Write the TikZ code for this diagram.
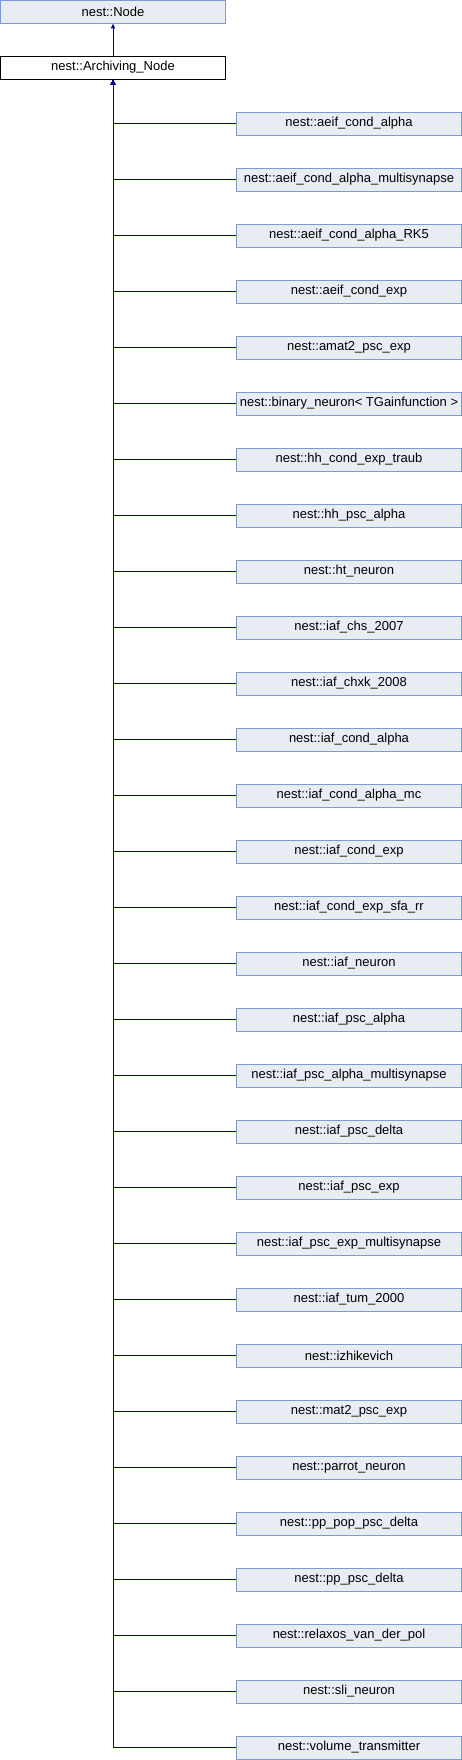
\documentclass[tikz,border=0pt]{standalone}
\usepackage{fontspec}
\setmainfont{Liberation Sans}
\usetikzlibrary{arrows.meta}
\definecolor{boxfill}{HTML}{E8ECF5}
\definecolor{boxdraw}{HTML}{7F9ACE}
\definecolor{edgecol}{HTML}{000090}
\begin{document}
\begin{tikzpicture}[x=1pt,y=-1pt,
  cls/.style={draw=boxdraw,fill=boxfill,line width=0.9pt,minimum width=225pt,minimum height=23pt,inner sep=0pt,font=\fontsize{13pt}{15pt}\selectfont,anchor=center},
  cur/.style={cls,draw=black,fill=white},
  inh/.style={draw=edgecol,line width=0.9pt,-{Latex[length=5pt,width=5pt]}}]
\useasboundingbox (0,0) rectangle (462,1760);
\node[cls] (node) at (113,11.5) {nest::Node};
\node[cur] (arch) at (113,67.5) {nest::Archiving\_Node};
\draw[inh] (arch.north) -- (node.south);
\foreach \i/\t in {0/nest::aeif\_cond\_alpha,
1/nest::aeif\_cond\_alpha\_multisynapse,
2/nest::aeif\_cond\_alpha\_RK5,
3/nest::aeif\_cond\_exp,
4/nest::amat2\_psc\_exp,
5/{nest::binary\_neuron< TGainfunction >},
6/nest::hh\_cond\_exp\_traub,
7/nest::hh\_psc\_alpha,
8/nest::ht\_neuron,
9/nest::iaf\_chs\_2007,
10/nest::iaf\_chxk\_2008,
11/nest::iaf\_cond\_alpha,
12/nest::iaf\_cond\_alpha\_mc,
13/nest::iaf\_cond\_exp,
14/nest::iaf\_cond\_exp\_sfa\_rr,
15/nest::iaf\_neuron,
16/nest::iaf\_psc\_alpha,
17/nest::iaf\_psc\_alpha\_multisynapse,
18/nest::iaf\_psc\_delta,
19/nest::iaf\_psc\_exp,
20/nest::iaf\_psc\_exp\_multisynapse,
21/nest::iaf\_tum\_2000,
22/nest::izhikevich,
23/nest::mat2\_psc\_exp,
24/nest::parrot\_neuron,
25/nest::pp\_pop\_psc\_delta,
26/nest::pp\_psc\_delta,
27/nest::relaxos\_van\_der\_pol,
28/nest::sli\_neuron,
29/nest::volume\_transmitter}{
  \node[cls] (c\i) at (349,{123.5+56*\i}) {\t};
  \draw[inh] (c\i.west) -| (arch.south);
}
\end{tikzpicture}
\end{document}
